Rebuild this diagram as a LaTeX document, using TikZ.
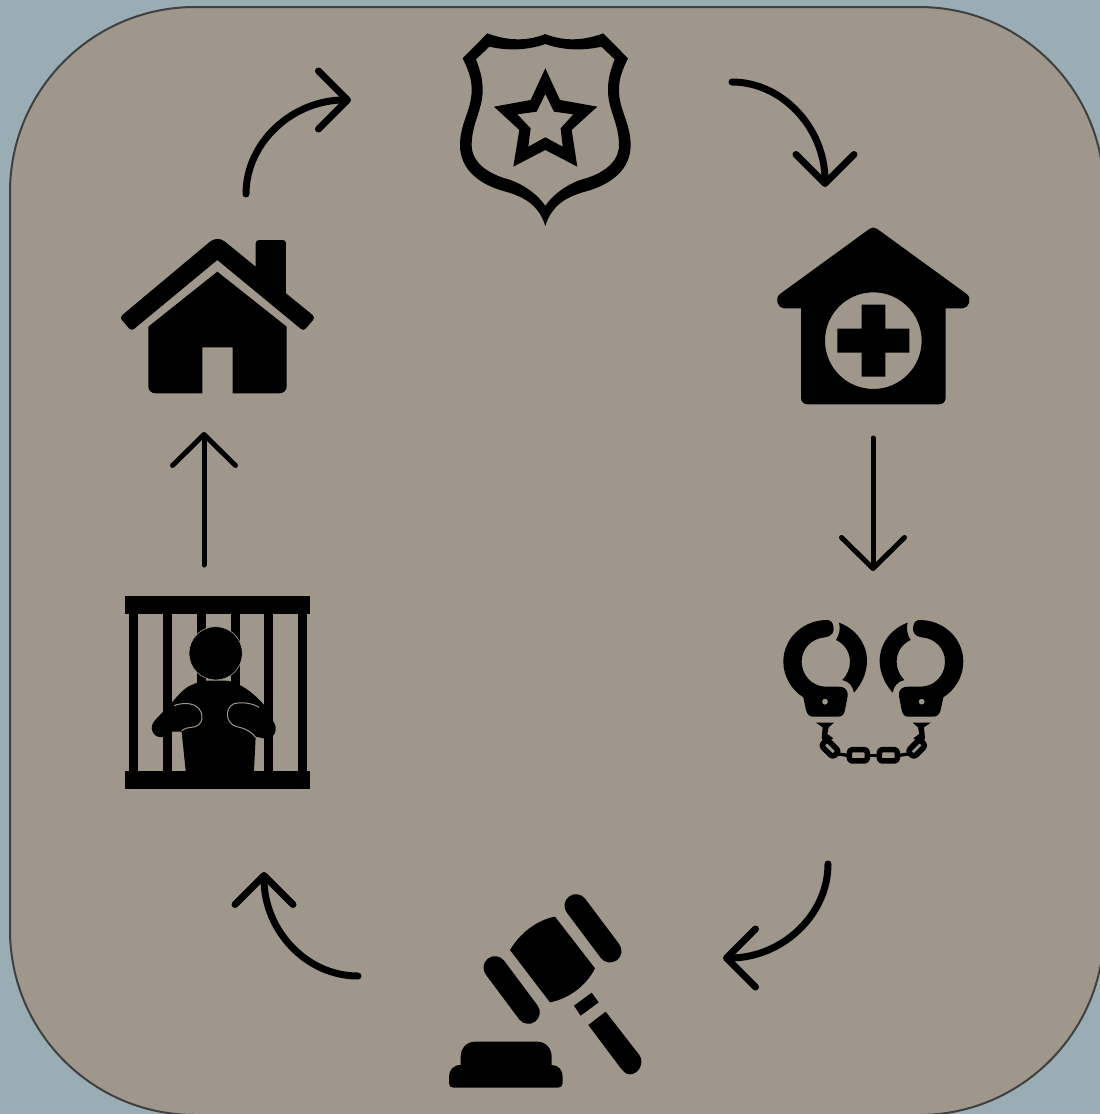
\documentclass[tikz,border=0pt]{standalone}
\usepackage{xcolor}
\usetikzlibrary{arrows.meta}
\definecolor{wallbg}{HTML}{9BADB4}
\definecolor{panelbg}{HTML}{9F978B}
\definecolor{panelline}{HTML}{404040}
% one half of the cuffs, mirrored for the other side
\newcommand{\cuffhalf}{%
\fill[even odd rule] (175,30) .. controls (100,28) and (40,85) .. (40,155) .. controls (40,200) and (65,240) .. (100,262) -- (108,300) .. controls (112,315) and (120,320) .. (130,320) -- (205,320) .. controls (218,320) and (222,312) .. (225,300) -- (233,258) .. controls (235,240) and (225,230) .. (205,230) -- (165,230) .. controls (125,228) and (95,195) .. (95,155) .. controls (95,115) and (125,85) .. (165,82) .. controls (185,80) and (195,65) .. (190,48) .. controls (188,38) and (183,31) .. (175,30) -- cycle (165,275) circle (9);
\fill (207,38) .. controls (255,55) and (292,100) .. (291,155) .. controls (290,190) and (275,222) .. (252,248) .. controls (248,228) and (238,215) .. (217,210) .. controls (232,195) and (240,175) .. (240,155) .. controls (240,128) and (225,102) .. (198,90) .. controls (208,75) and (212,55) .. (207,38) -- cycle;
\fill (138,338) -- (192,338) -- (176,352) -- (172,372) -- (190,385) -- (165,400) -- (155,385) -- (158,352) -- cycle;
\draw[chainlink, rotate around={-45:(180,415)}] (155,402) rectangle (205,428);
\draw[chainlink] (238,419) rectangle (292,453);
\draw[line width=3.3pt] (205,432) -- (232,436);
\draw[line width=3.3pt] (292,436) -- (310,436);
}
\begin{document}
\begin{tikzpicture}[
x=1pt, y=-1pt,
arrow/.style={-{Straight Barb[length=31pt, width=63pt, round]}, line width=5pt, line cap=round, black},
bentarrow/.style={-{Straight Barb[length=29pt, width=58pt, round]}, line width=7pt, line cap=round, black},
chainlink/.style={draw=black, line width=5.5pt, rounded corners=3pt, line join=round}
]
\useasboundingbox (0,0) rectangle (1100,1114);
\fill[wallbg] (0,0) rectangle (1100,1114);
\clip (0,0) rectangle (1100,1114);
\draw[fill=panelbg, draw=panelline, line width=2pt, rounded corners=185pt] (10,7) rectangle (1104,1115);

% arrow ends
\coordinate (badgeout) at (732,82);
\coordinate (clinicin) at (825,187);
\coordinate (clinicout) at (873,438);
\coordinate (cuffsin) at (873,571);
\coordinate (cuffsout) at (828,864);
\coordinate (gavelin) at (723,958);
\coordinate (gavelout) at (358,976);
\coordinate (jailin) at (264,872);
\coordinate (jailout) at (204,565);
\coordinate (housein) at (204,432);
\coordinate (houseout) at (246,194);
\coordinate (badgein) at (351,100);

\draw[bentarrow] (badgeout) .. controls (783,82) and (825,129) .. (clinicin);
\draw[arrow] (clinicout) -- (cuffsin);
\draw[bentarrow] (cuffsout) .. controls (828,916) and (781,958) .. (gavelin);
\draw[bentarrow] (gavelout) .. controls (306,976) and (264,930) .. (jailin);
\draw[arrow] (jailout) -- (housein);
\draw[bentarrow] (houseout) .. controls (246,142) and (293,100) .. (badgein);

% badge
\begin{scope}[shift={(440,20)}, scale=0.3333]
\fill[even odd rule] (316,42) .. controls (260,65) and (200,62) .. (142,40) -- (68,115) .. controls (85,150) and (95,175) .. (95,210) .. controls (95,270) and (60,310) .. (60,375) .. controls (60,450) and (120,493) .. (190,513) .. controls (245,528) and (295,550) .. (316,618) .. controls (337,550) and (387,528) .. (442,513) .. controls (512,493) and (572,450) .. (572,375) .. controls (572,310) and (537,270) .. (537,210) .. controls (537,175) and (547,150) .. (564,115) -- (490,40) .. controls (432,62) and (372,65) .. (316,42) -- cycle
(316,72) .. controls (260,92) and (200,92) .. (148,80) -- (108,118) .. controls (120,150) and (128,175) .. (128,210) .. controls (128,270) and (95,310) .. (95,375) .. controls (95,428) and (145,462) .. (205,478) .. controls (250,492) and (295,525) .. (316,558) .. controls (337,525) and (382,492) .. (427,478) .. controls (487,462) and (537,428) .. (537,375) .. controls (537,310) and (504,270) .. (504,210) .. controls (504,175) and (512,150) .. (524,118) -- (484,80) .. controls (432,92) and (372,92) .. (316,72) -- cycle;
\fill[even odd rule] (316,145) -- (360,240) -- (472,260) -- (395,330) -- (412,440) -- (316,390) -- (220,440) -- (238,330) -- (162,260) -- (272,240) -- cycle
(316,222) -- (342,275) -- (400,283) -- (362,325) -- (368,380) -- (316,352) -- (265,380) -- (272,325) -- (232,283) -- (290,275) -- cycle;
\end{scope}

% clinic
\begin{scope}[shift={(770,220)}, scale=0.3333]
\fill[even odd rule] (298,27) .. controls (305,21) and (315,21) .. (322,27) -- (590,222) .. controls (607,235) and (597,265) .. (578,265) -- (527,265) -- (527,533) .. controls (527,546) and (518,553) .. (507,553) -- (113,553) .. controls (102,553) and (93,546) .. (93,533) -- (93,265) -- (42,265) .. controls (23,265) and (13,235) .. (30,222) -- cycle
(310,362) circle (145);
\fill (275,254) rectangle (346,326) (202,326) rectangle (418,398) (275,398) rectangle (346,470);
\end{scope}

% cuffs
\begin{scope}[shift={(770,610)}, scale=0.3333]
\cuffhalf
\begin{scope}[shift={(620,0)}, xscale=-1]
\cuffhalf
\end{scope}
\end{scope}

% gavel
\begin{scope}[shift={(440,885)}, scale=0.3333]
\draw[line width=23pt, line cap=round] (165,248) -- (265,382);
\draw[line width=23pt, line cap=round] (408,62) -- (510,198);
\fill (210,195) .. controls (240,145) and (290,105) .. (345,95) -- (465,250) .. controls (440,300) and (390,340) .. (330,352) -- cycle;
\fill (402,362) -- (455,323) -- (476,352) -- (422,392) -- cycle;
\fill (445,420) -- (497,380) -- (598,510) .. controls (615,535) and (595,568) .. (570,568) .. controls (558,568) and (550,560) .. (544,552) -- cycle;
\fill (62,540) -- (62,515) .. controls (62,490) and (80,470) .. (105,470) -- (292,470) .. controls (317,470) and (335,490) .. (335,515) -- (335,540) .. controls (355,540) and (368,555) .. (368,575) -- (368,595) .. controls (368,603) and (362,608) .. (355,608) -- (40,608) .. controls (33,608) and (27,603) .. (27,595) -- (27,575) .. controls (27,555) and (40,540) .. (62,540) -- cycle;
\end{scope}

% jail
\begin{scope}[shift={(110,590)}, scale=0.3333]
\fill (45,18) rectangle (600,72);
\fill (45,543) rectangle (600,597);
\foreach \barx in {58,159,260,362,462,563}
  \fill (\barx,72) rectangle ++(27,471);
\fill (188,335) .. controls (205,315) and (225,292) .. (245,285) .. controls (260,278) and (275,272) .. (290,272) -- (345,272) .. controls (365,272) and (375,280) .. (395,288) .. controls (420,302) and (445,325) .. (462,345) -- (490,395) .. controls (505,415) and (495,445) .. (470,447) -- (437,440) -- (432,543) -- (228,552) -- (215,425) -- (185,425) .. controls (170,448) and (130,450) .. (125,415) .. controls (125,400) and (135,390) .. (150,375) -- cycle;
\draw[panelbg, line width=1pt] (192,347) .. controls (215,338) and (245,338) .. (260,350) .. controls (285,368) and (282,410) .. (245,412) .. controls (235,412) and (225,415) .. (215,422);
\draw[panelbg, line width=1pt] (447,352) .. controls (425,338) and (390,335) .. (370,342) .. controls (345,355) and (345,400) .. (380,410) .. controls (405,415) and (425,425) .. (437,442);
\draw[fill=black, draw=panelbg, line width=0.6pt] (317,190) circle (80);
\end{scope}

% house
\begin{scope}[shift={(110,225)}, scale=0.3333]
\fill (300,50) .. controls (313,39) and (332,39) .. (345,50) -- (437,125) -- (437,55) .. controls (437,48) and (442,45) .. (448,45) -- (518,45) .. controls (524,45) and (528,48) .. (528,55) -- (528,205) -- (608,270) .. controls (613,275) and (613,280) .. (610,284) -- (588,310) .. controls (584,315) and (578,316) .. (573,312) -- (322,105) -- (72,312) .. controls (67,316) and (61,315) .. (57,310) -- (35,284) .. controls (32,280) and (32,275) .. (37,270) -- cycle;
\fill (322,140) -- (530,305) -- (530,485) .. controls (530,497) and (520,505) .. (508,505) -- (368,505) -- (368,367) -- (277,367) -- (277,505) -- (137,505) .. controls (125,505) and (115,497) .. (115,485) -- (115,305) -- cycle;
\end{scope}
\end{tikzpicture}
\end{document}
